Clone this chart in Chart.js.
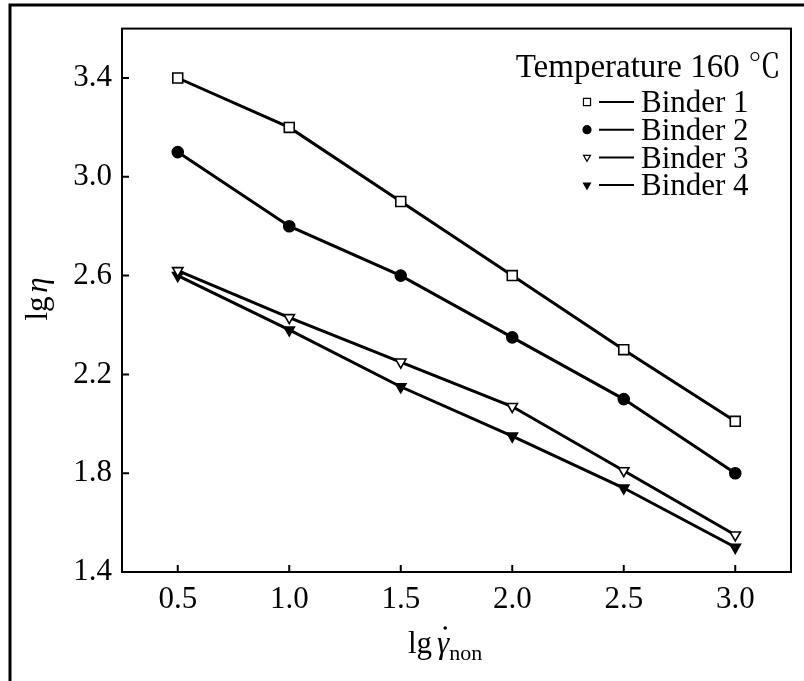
<!DOCTYPE html>
<html>
<head>
<meta charset="utf-8">
<script src="https://cdn.jsdelivr.net/npm/chart.js@4"></script>
<style>
  body { margin: 0; background: #fff; }
  #wrap { width: 804px; height: 681px; position: relative; }
</style>
</head>
<body>
<div id="wrap"><canvas id="chart" width="804" height="681"></canvas></div>
<script>
// data
const shearRates = [0.5, 1.0, 1.5, 2.0, 2.5, 3.0];
const binder1 = [3.40, 3.20, 2.90, 2.60, 2.30, 2.01];
const binder2 = [3.10, 2.80, 2.60, 2.35, 2.10, 1.80];
const binder3 = [2.62, 2.43, 2.25, 2.07, 1.81, 1.55];
const binder4 = [2.60, 2.38, 2.15, 1.95, 1.74, 1.50];
const seriesNames = ['Binder 1', 'Binder 2', 'Binder 3', 'Binder 4'];
const xTickValues = [0.5, 1.0, 1.5, 2.0, 2.5, 3.0];
const yTickValues = [1.4, 1.8, 2.2, 2.6, 3.0, 3.4];
const legendTitle = 'Temperature 160 \u2103';

const SERIF = '"Liberation Serif", "Times New Roman", "Noto Serif CJK SC", "Noto Sans CJK SC", serif';

function toPoints(ys) {
    return shearRates.map((x, i) => ({ x: x, y: ys[i] }));
}

function makeSet(label, ys, style, fill, rotation, radius) {
    return {
        label: label,
        data: toPoints(ys),
        borderColor: '#000',
        borderWidth: 3,
        pointStyle: style,
        rotation: rotation,
        pointRadius: radius,
        pointBackgroundColor: fill,
        pointBorderColor: '#000',
        pointBorderWidth: 1.6,
        tension: 0
    };
}

const datasets = [
    makeSet(seriesNames[0], binder1, 'rect', '#fff', 0, 7),
    makeSet(seriesNames[1], binder2, 'circle', '#000', 0, 5.5),
    makeSet(seriesNames[2], binder3, 'triangle', '#fff', 180, 6),
    makeSet(seriesNames[3], binder4, 'triangle', '#000', 180, 6)
];

// frame, inward ticks, titles and the legend
const decorations = {
    id: 'decorations',
    afterDraw(chart) {
        const ctx = chart.ctx;
        const a = chart.chartArea;
        const xs = chart.scales.x, ys = chart.scales.y;
        ctx.save();
        ctx.strokeStyle = '#000';

        // outer frame (top and left)
        ctx.lineWidth = 3;
        ctx.beginPath();
        ctx.moveTo(10, 681);
        ctx.lineTo(10, 5);
        ctx.lineTo(804, 5);
        ctx.stroke();

        // plot box
        ctx.lineWidth = 2;
        ctx.strokeRect(a.left, a.top, a.right - a.left, a.bottom - a.top);

        // ticks pointing inside
        ctx.beginPath();
        xTickValues.forEach(v => {
            const px = xs.getPixelForValue(v);
            ctx.moveTo(px, a.bottom);
            ctx.lineTo(px, a.bottom - 7);
        });
        yTickValues.forEach(v => {
            const py = ys.getPixelForValue(v);
            ctx.moveTo(a.left, py);
            ctx.lineTo(a.left + 7, py);
        });
        ctx.stroke();

        // y title: lg η
        ctx.fillStyle = '#000';
        ctx.save();
        ctx.translate(47, 297);
        ctx.rotate(-Math.PI / 2);
        ctx.textBaseline = 'alphabetic';
        ctx.font = '31px ' + SERIF;
        const w1 = ctx.measureText('lg ').width;
        ctx.font = 'italic 31px ' + SERIF;
        const w2 = ctx.measureText('\u03b7').width;
        let sx = -(w1 + w2) / 2;
        ctx.font = '31px ' + SERIF;
        ctx.fillText('lg', sx, 0);
        ctx.font = 'italic 31px ' + SERIF;
        ctx.fillText('\u03b7', sx + w1 - 4, 0);
        ctx.restore();

        // x title: lg γ̇ non
        ctx.save();
        ctx.textBaseline = 'alphabetic';
        let tx = 408, ty = 653;
        ctx.font = '31px ' + SERIF;
        ctx.fillText('lg', tx, ty);
        tx += ctx.measureText('lg').width + 5;
        ctx.font = 'italic 31px ' + SERIF;
        ctx.fillText('\u03b3', tx, ty);
        const gw = ctx.measureText('\u03b3').width;
        ctx.beginPath();
        ctx.arc(tx + gw / 2 + 2, ty - 25, 1.8, 0, Math.PI * 2);
        ctx.fill();
        tx += gw;
        ctx.font = '22px ' + SERIF;
        ctx.fillText('non', tx, ty + 7);
        ctx.restore();

        // legend
        ctx.save();
        ctx.font = '33px ' + SERIF;
        ctx.textBaseline = 'middle';
        ctx.textAlign = 'right';
        ctx.fillText(legendTitle, 781, 68);
        ctx.font = '31px ' + SERIF;
        ctx.textAlign = 'left';
        chart.data.datasets.forEach((ds, i) => {
            const y = 102 + i * 27.7;
            const opts = {
                pointStyle: ds.pointStyle,
                rotation: ds.rotation,
                radius: ds.pointStyle === 'rect' ? 5 : 4,
                borderWidth: 1.2
            };
            ctx.fillStyle = ds.pointBackgroundColor;
            ctx.strokeStyle = '#000';
            ctx.lineWidth = 1.2;
            Chart.helpers.drawPoint(ctx, opts, 587, y);
            ctx.lineWidth = 2;
            ctx.beginPath();
            ctx.moveTo(599, y);
            ctx.lineTo(634, y);
            ctx.stroke();
            ctx.fillStyle = '#000';
            ctx.fillText(ds.label, 641, y + 2);
        });
        ctx.restore();

        ctx.restore();
    }
};

new Chart(document.getElementById('chart'), {
    type: 'line',
    data: { datasets: datasets },
    options: {
        responsive: false,
        animation: false,
        events: [],
        layout: { padding: { left: 0, top: 22, right: 13, bottom: 0 } },
        plugins: { legend: { display: false }, tooltip: { enabled: false } },
        scales: {
            x: {
                type: 'linear',
                min: 0.25,
                max: 3.25,
                afterBuildTicks: s => { s.ticks = xTickValues.map(v => ({ value: v })); },
                afterFit: s => { s.height = 109; },
                grid: { display: false, drawTicks: false },
                border: { display: false },
                ticks: {
                    padding: 9,
                    color: '#000',
                    font: { family: SERIF, size: 31 },
                    callback: v => v.toFixed(1)
                }
            },
            y: {
                min: 1.4,
                max: 3.6,
                afterBuildTicks: s => { s.ticks = yTickValues.map(v => ({ value: v })); },
                afterFit: s => { s.width = 122; },
                grid: { display: false, drawTicks: false },
                border: { display: false },
                ticks: {
                    padding: 10,
                    color: '#000',
                    font: { family: SERIF, size: 31 },
                    callback: v => v.toFixed(1)
                }
            }
        }
    },
    plugins: [decorations]
});
</script>
</body>
</html>
